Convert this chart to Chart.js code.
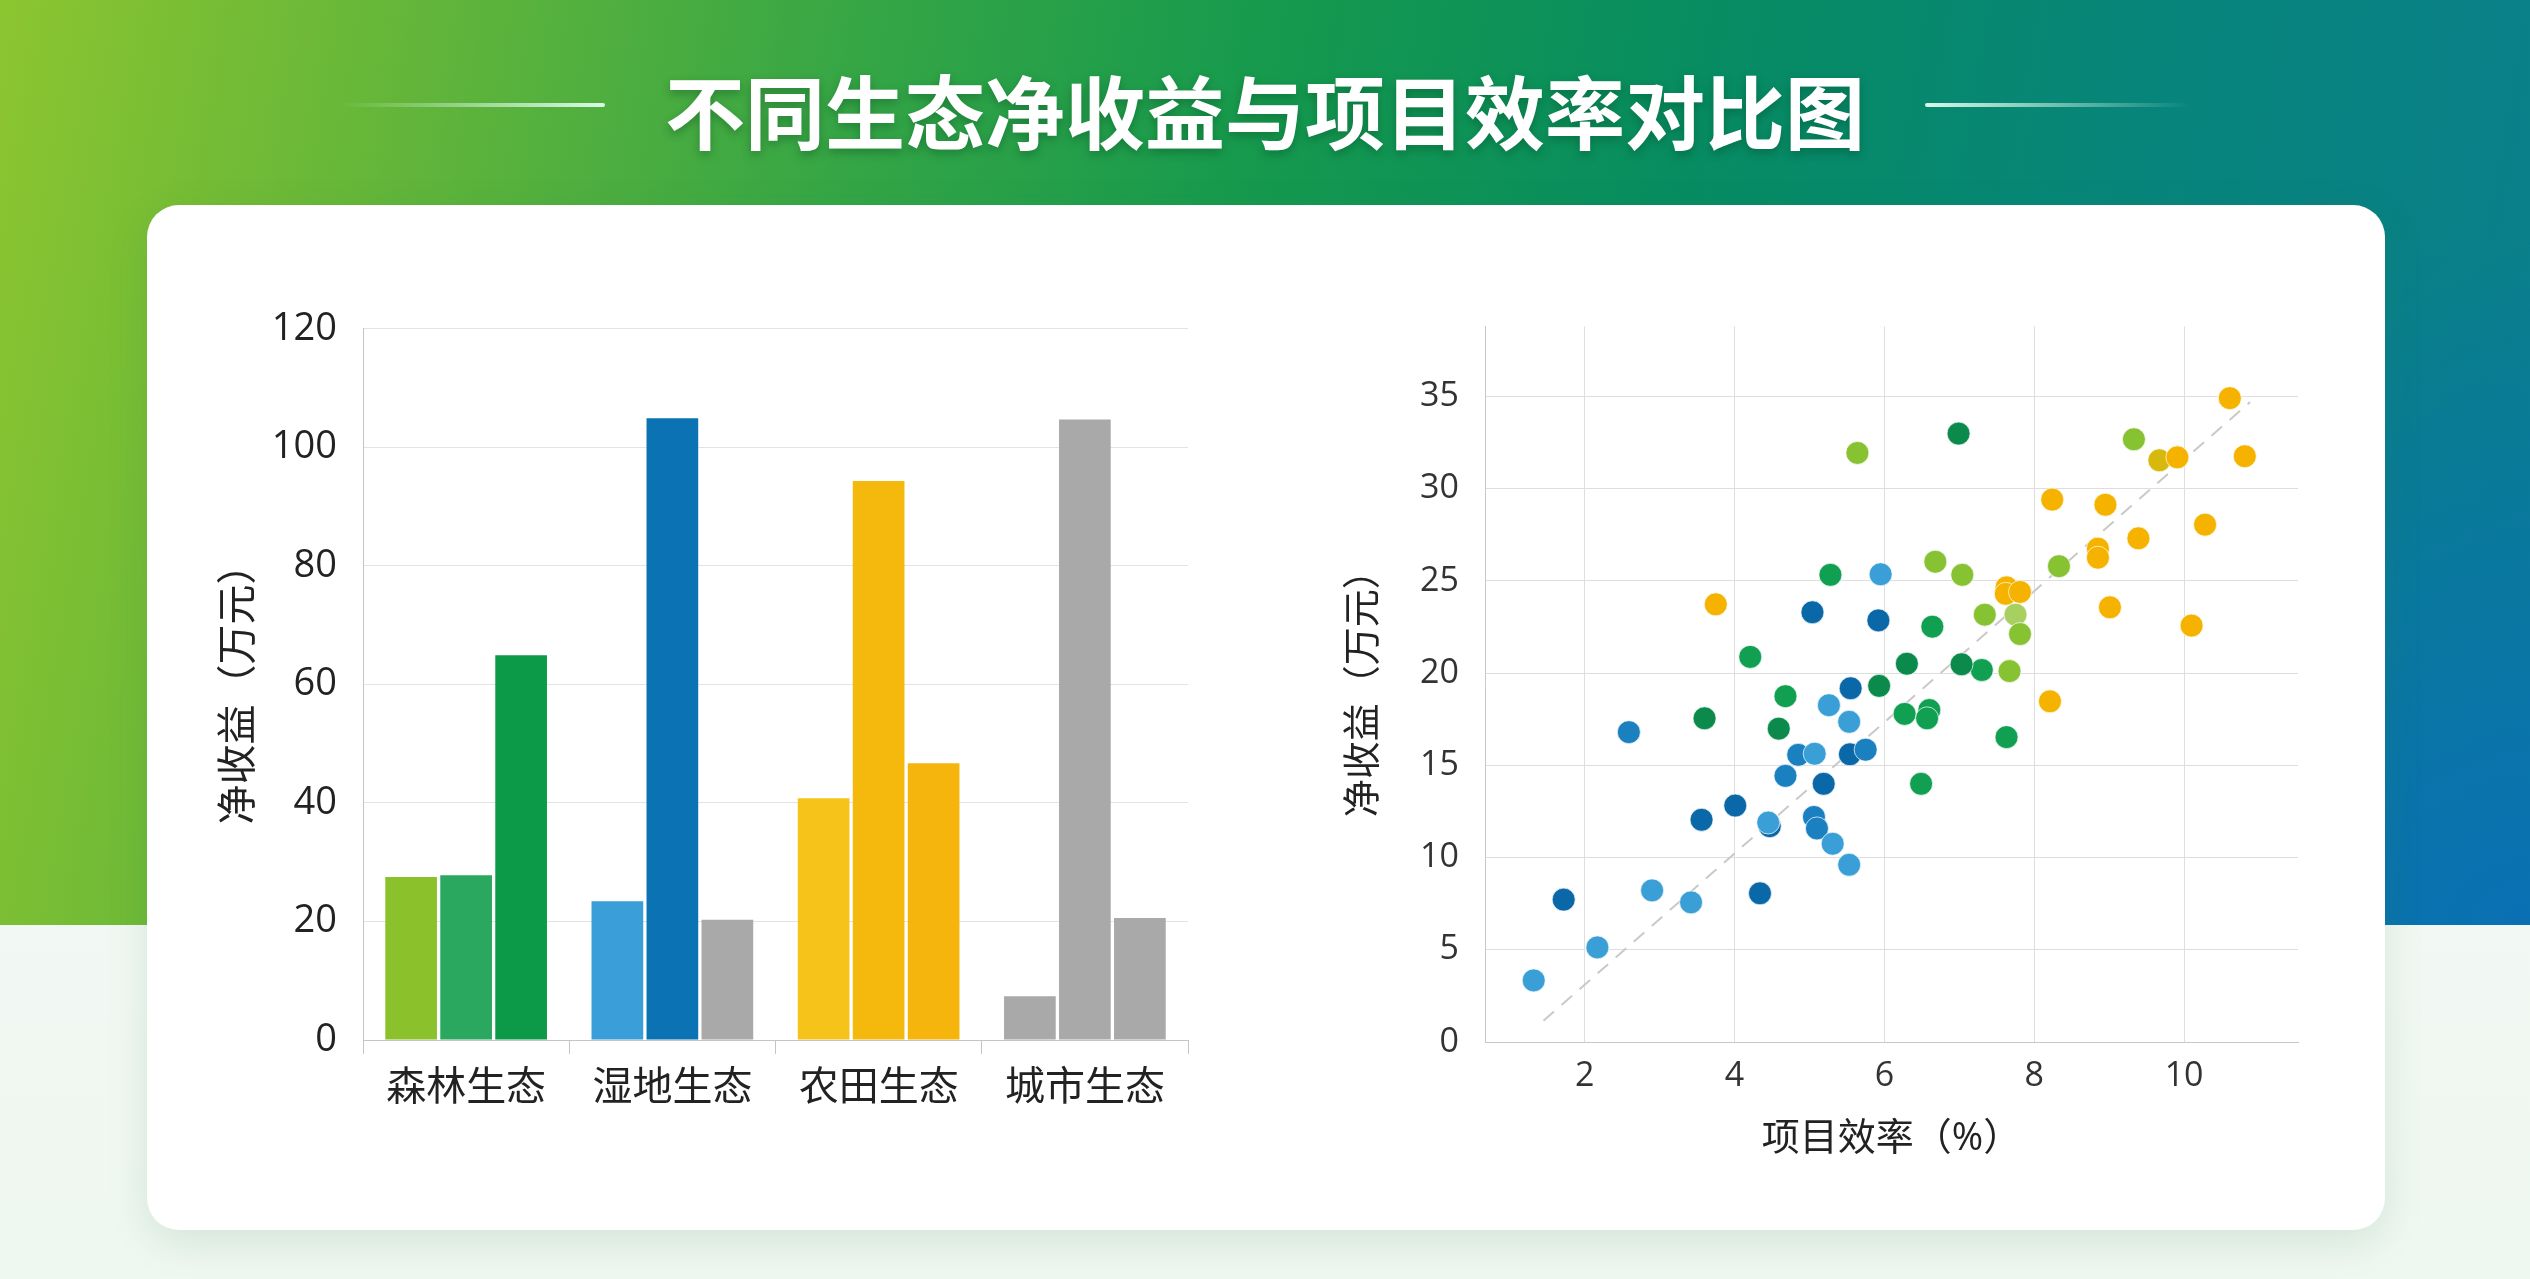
<!DOCTYPE html>
<html lang="zh-CN">
<head>
<meta charset="utf-8">
<title>不同生态净收益与项目效率对比图</title>
<script src="https://cdn.jsdelivr.net/npm/chart.js@4.4.1/dist/chart.umd.min.js"></script>
<style>
  html, body { margin: 0; padding: 0; }
  body {
    width: 2530px; height: 1279px; position: relative; overflow: hidden;
    background: linear-gradient(180deg, #f8fbf8 0%, #eff7f1 100%);
    font-family: 'Noto Sans CJK SC', sans-serif;
  }
  .band {
    position: absolute; left: 0; top: 0; width: 2530px; height: 925px;
    background:
      radial-gradient(ellipse 900px 700px at 100% 100%, rgba(10,112,180,1) 0%, rgba(10,112,180,0.6) 40%, rgba(10,112,180,0) 100%),
      linear-gradient(100deg, #8cc530 0%, #62b53a 16%, #36a645 32%, #15994e 48%, #078c62 64%, #07857a 80%, #0a7e8e 100%);
  }
  .title {
    position: absolute; left: 0; top: 56px; width: 2530px; height: 104px; line-height: 104px;
    text-align: center; font-size: 80px; font-weight: bold; color: #fff;
    text-shadow: 0 4px 10px rgba(0, 60, 30, 0.35);
  }
  .deco { position: absolute; top: 103px; height: 4px; width: 266px; border-radius: 2px; }
  .deco.l { left: 339px; background: linear-gradient(90deg, rgba(220,255,235,0), rgba(225,255,240,0.95)); }
  .deco.r { left: 1925px; background: linear-gradient(90deg, rgba(225,255,240,0.95), rgba(220,255,235,0)); }
  .card {
    position: absolute; left: 147px; top: 205px; width: 2238px; height: 1025px;
    background: #fff; border-radius: 32px;
    box-shadow: 0 12px 40px rgba(40, 130, 70, 0.14);
  }
  canvas { position: absolute; }
  #barChart { left: 200px; top: 280px; }
  #scatterChart { left: 1320px; top: 280px; }
</style>
</head>
<body>
<div class="band"></div>
<div class="deco l"></div>
<div class="deco r"></div>
<div class="title">不同生态净收益与项目效率对比图</div>
<div class="card"></div>
<canvas id="barChart" width="1020" height="850"></canvas>
<canvas id="scatterChart" width="1040" height="900"></canvas>
<script>
// ---- bar chart data (万元) ----
const ecoLabels = ['森林生态', '湿地生态', '农田生态', '城市生态'];
const seriesA = [27.5, 23.4, 40.8, 7.4];
const seriesB = [27.8, 104.9, 94.3, 104.7];
const seriesC = [64.9, 20.3, 46.7, 20.6];
const colorsA = ['#8bc22c', '#3a9ed8', '#f6c31a', '#a9a9a9'];
const colorsB = ['#2aa860', '#0b73b4', '#f5b90e', '#a9a9a9'];
const colorsC = ['#0d9a48', '#a9a9a9', '#f6b50c', '#a9a9a9'];
const barTicks = { min: 0, max: 120, step: 20 };

// ---- scatter data: [项目效率 %, 净收益 万元] ----
const lightBluePts = [[1.32, 3.34], [2.17, 5.13], [2.90, 8.22], [3.42, 7.57], [5.31, 10.75], [5.53, 9.61],
  [5.26, 18.26], [5.53, 17.36], [5.95, 25.36], [4.45, 11.9], [5.07, 15.63]];
const midBluePts = [[2.59, 16.8], [4.68, 14.43], [4.85, 15.57], [5.06, 12.2], [5.10, 11.58], [5.75, 15.85]];
const darkBluePts = [[1.72, 7.72], [3.56, 12.05], [4.01, 12.82], [4.34, 8.06], [4.47, 11.7], [5.19, 14.0],
  [5.55, 19.18], [5.54, 15.6], [5.04, 23.3], [5.92, 22.86]];
const greenPts = [[5.28, 25.33], [4.21, 20.88], [6.27, 17.79], [6.60, 18.0], [6.57, 17.55], [6.64, 22.52],
  [6.49, 14.0], [7.30, 20.17], [7.63, 16.53], [4.68, 18.75]];
const darkGreenPts = [[3.60, 17.55], [4.59, 16.99], [5.93, 19.31], [6.30, 20.51], [6.99, 32.99], [7.03, 20.48]];
const limePts = [[5.64, 31.94], [6.68, 26.04], [7.04, 25.33], [7.81, 22.12], [8.33, 25.8], [9.33, 32.68],
  [7.34, 23.17], [7.67, 20.11]];
const paleLimePts = [[7.75, 23.17]];
const orangePts = [[3.75, 23.73], [7.63, 24.65], [7.62, 24.3], [7.81, 24.4], [8.24, 29.41], [8.95, 29.13],
  [8.85, 26.75], [8.85, 26.26], [9.39, 27.31], [9.01, 23.57], [8.21, 18.47], [9.91, 31.70], [10.61, 34.91],
  [10.81, 31.76], [10.28, 28.05], [10.10, 22.58]];
const olivePts = [[9.67, 31.54]];
// dashed trend line end points
const trendX = [1.45, 10.88];
const trendY = [1.15, 34.7];

const fontFamily = "'Open Sans', 'Noto Sans CJK SC', sans-serif";
const textColor = '#222';

new Chart(document.getElementById('barChart'), {
  type: 'bar',
  data: {
    labels: ecoLabels,
    datasets: [
      { label: 'A', data: seriesA, backgroundColor: colorsA },
      { label: 'B', data: seriesB, backgroundColor: colorsB },
      { label: 'C', data: seriesC, backgroundColor: colorsC }
    ]
  },
  options: {
    responsive: false,
    animation: false,
    layout: { padding: { top: 42, right: 32, left: 0, bottom: 0 } },
    datasets: { bar: { categoryPercentage: 0.8, barPercentage: 0.94 } },
    plugins: { legend: { display: false }, tooltip: { enabled: false } },
    scales: {
      x: {
        grid: { offset: true, drawOnChartArea: false, drawTicks: true, tickLength: 14, color: '#c4c4c4' },
        border: { color: '#c4c4c4' },
        ticks: { font: { family: fontFamily, size: 40 }, color: textColor, padding: 11 },
        afterFit(s) { s.height = 90; }
      },
      y: {
        min: barTicks.min, max: barTicks.max,
        ticks: { stepSize: barTicks.step, font: { family: fontFamily, size: 38 }, color: textColor, padding: 26 },
        grid: { color: '#e3e3e3', drawTicks: false },
        border: { color: '#c4c4c4' },
        title: { display: true, text: '净收益（万元）', font: { family: fontFamily, size: 40 }, color: textColor, padding: { top: 16, bottom: 0 } },
        afterFit(s) { s.width = 163; }
      }
    }
  }
});

function dots(pts, color) {
  return {
    type: 'scatter',
    data: pts.map(p => ({ x: p[0], y: p[1] })),
    backgroundColor: color,
    borderColor: 'rgba(255,255,255,0.7)',
    borderWidth: 1,
    pointRadius: 11.5,
    order: 1
  };
}

new Chart(document.getElementById('scatterChart'), {
  type: 'scatter',
  data: {
    datasets: [
      {
        type: 'line',
        data: trendX.map((x, i) => ({ x: x, y: trendY[i] })),
        borderColor: '#c9c9c9',
        borderWidth: 2,
        borderDash: [14, 10],
        pointRadius: 0,
        fill: false,
        order: 5
      },
      dots(lightBluePts, '#3a9fd6'),
      dots(midBluePts, '#1a80c0'),
      dots(darkBluePts, '#0a68a8'),
      dots(darkGreenPts, '#0b8a4c'),
      dots(greenPts, '#11a052'),
      dots(limePts, '#86c232'),
      dots(paleLimePts, '#a8d060'),
      dots(orangePts, '#f5b300'),
      dots(olivePts, '#d6b90c')
    ]
  },
  options: {
    responsive: false,
    animation: false,
    layout: { padding: { top: 33, right: 62, left: 0, bottom: 0 } },
    plugins: { legend: { display: false }, tooltip: { enabled: false } },
    scales: {
      x: {
        type: 'linear', min: 0.67, max: 11.52,
        ticks: { stepSize: 2, includeBounds: false, font: { family: fontFamily, size: 34 }, color: '#333', padding: 14 },
        grid: { color: '#dedede', drawTicks: false },
        border: { color: '#c8c8c8' },
        title: { display: true, text: '项目效率（%）', font: { family: fontFamily, size: 38 }, color: textColor, padding: { top: 0, bottom: 18 } },
        afterFit(s) { s.height = 138; }
      },
      y: {
        min: 0, max: 38.8,
        ticks: { stepSize: 5, includeBounds: false, font: { family: fontFamily, size: 34 }, color: '#333', padding: 26 },
        grid: { color: '#dedede', drawTicks: false },
        border: { color: '#c8c8c8' },
        title: { display: true, text: '净收益（万元）', font: { family: fontFamily, size: 38 }, color: textColor, padding: { top: 21, bottom: 0 } },
        afterFit(s) { s.width = 165; }
      }
    }
  }
});
</script>
</body>
</html>
